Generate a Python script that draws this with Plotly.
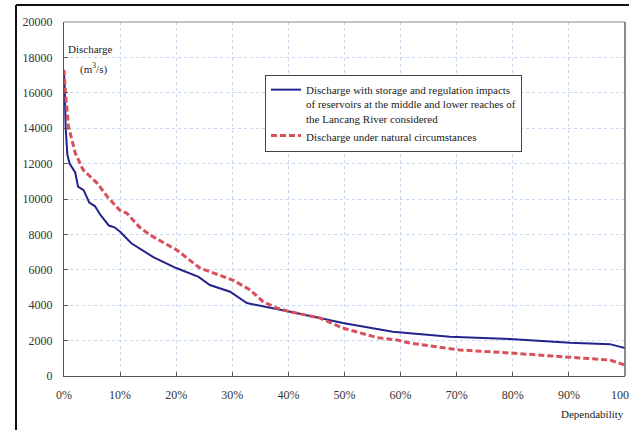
import plotly.graph_objects as go

# Dependability (fraction) and discharge (m3/s)
reg_x = [0.0, 0.001, 0.003, 0.006, 0.010, 0.020, 0.025, 0.035, 0.045, 0.055, 0.065, 0.080, 0.090,
         0.100, 0.120, 0.140, 0.160, 0.200, 0.240, 0.260, 0.296, 0.326, 0.367, 0.403, 0.456,
         0.497, 0.586, 0.688, 0.795, 0.902, 0.973, 1.000]
reg_y = [17000, 16500, 14000, 12500, 12000, 11500, 10700, 10500, 9800, 9600, 9100, 8500, 8400,
         8150, 7500, 7100, 6700, 6100, 5600, 5140, 4760, 4120, 3840, 3630, 3280,
         3000, 2500, 2220, 2090, 1880, 1800, 1580]

nat_x = [0.0, 0.002, 0.008, 0.020, 0.034, 0.059, 0.078, 0.100, 0.112, 0.135, 0.153, 0.201,
         0.242, 0.278, 0.301, 0.332, 0.355, 0.379, 0.403, 0.456, 0.497, 0.558, 0.594, 0.617,
         0.706, 0.795, 0.884, 0.973, 1.000]
nat_y = [17300, 16200, 14100, 12600, 11650, 10900, 10100, 9350, 9200, 8400, 7970, 7120,
         6100, 5700, 5420, 4860, 4200, 3840, 3630, 3280, 2710, 2170, 2030, 1860,
         1470, 1300, 1090, 900, 620]

name_reg = ("Discharge with storage and regulation impacts<br>of reservoirs at the middle and lower reaches of"
            "<br>the Lancang River considered")
name_nat = "Discharge under natural circumstances"

y_ticks = [0, 2000, 4000, 6000, 8000, 10000, 12000, 14000, 16000, 18000, 20000]
x_ticks = [0.0, 0.1, 0.2, 0.3, 0.4, 0.5, 0.6, 0.7, 0.8, 0.9, 1.0]

SERIF = "Liberation Serif, Times New Roman, serif"

fig = go.Figure()
fig.add_trace(go.Scatter(x=reg_x, y=reg_y, mode="lines", name=name_reg,
                         line=dict(color="#23238c", width=2)))
fig.add_trace(go.Scatter(x=nat_x, y=nat_y, mode="lines", name=name_nat,
                         line=dict(color="#d9505a", width=3, dash="6px,3px")))

L, R, T, B = 64, 4, 22, 54
W, H = 629, 430
pw, ph = W - L - R, H - T - B

def px(x):
    return (x - L) / pw

def py(y):
    return 1 - (y - T) / ph

fig.update_layout(
    width=W, height=H,
    margin=dict(l=L, r=R, t=T, b=B, autoexpand=False),
    paper_bgcolor="white", plot_bgcolor="white",
    font=dict(family=SERIF, size=12, color="#222"),
    showlegend=True,
    legend=dict(x=px(265), y=py(75), xanchor="left", yanchor="top",
                bordercolor="#444", borderwidth=1, bgcolor="white",
                font=dict(family=SERIF, size=11, color="#222"),
                valign="top", itemwidth=30, tracegroupgap=6),
    xaxis=dict(range=[0, 1], tickvals=x_ticks, tickformat=".0%",
               showgrid=True, gridcolor="#c8d6ee", griddash="dot", gridwidth=1,
               ticks="inside", ticklen=4, tickcolor="#555",
               showline=True, linecolor="#555", linewidth=1, mirror=False,
               zeroline=False, ticklabelstandoff=8, ticklabeloverflow="allow",
               tickfont=dict(family=SERIF, size=12, color="#333")),
    yaxis=dict(range=[0, 20000], tickvals=y_ticks, tickformat="d",
               showgrid=True, gridcolor="#c8d6ee", griddash="dot", gridwidth=1,
               ticks="inside", ticklen=4, tickcolor="#555",
               showline=True, linecolor="#555", linewidth=1,
               zeroline=False, ticklabelstandoff=8,
               tickfont=dict(family=SERIF, size=12, color="#333")),
)

# plot frame top and right
fig.add_shape(type="line", xref="paper", yref="paper", x0=0, x1=1, y0=1, y1=1,
              line=dict(color="#888", width=1))
fig.add_shape(type="line", xref="paper", yref="paper", x0=1, x1=1, y0=0, y1=1,
              line=dict(color="#666", width=1.5))
# outer frame (left and top)
fig.add_shape(type="line", xref="paper", yref="paper", x0=px(16), x1=px(16), y0=py(432), y1=py(5),
              line=dict(color="#111", width=2))
fig.add_shape(type="line", xref="paper", yref="paper", x0=px(16), x1=px(640), y0=py(5), y1=py(5),
              line=dict(color="#111", width=2))

fig.add_annotation(text="Discharge", xref="paper", yref="paper", x=px(66), y=py(49),
                   xanchor="left", yanchor="middle", showarrow=False,
                   font=dict(family=SERIF, size=11, color="#222"))
fig.add_annotation(text="(m<sup>3</sup>/s)", xref="paper", yref="paper", x=px(78), y=py(68),
                   xanchor="left", yanchor="middle", showarrow=False,
                   font=dict(family=SERIF, size=11, color="#222"))
fig.add_annotation(text="Dependability", xref="paper", yref="paper", x=px(626), y=py(414),
                   xanchor="right", yanchor="middle", showarrow=False,
                   font=dict(family=SERIF, size=11, color="#222"))

fig.write_html("out.html", config={"displayModeBar": False},
               post_script="document.body.style.margin='0';document.body.style.overflow='hidden';")
